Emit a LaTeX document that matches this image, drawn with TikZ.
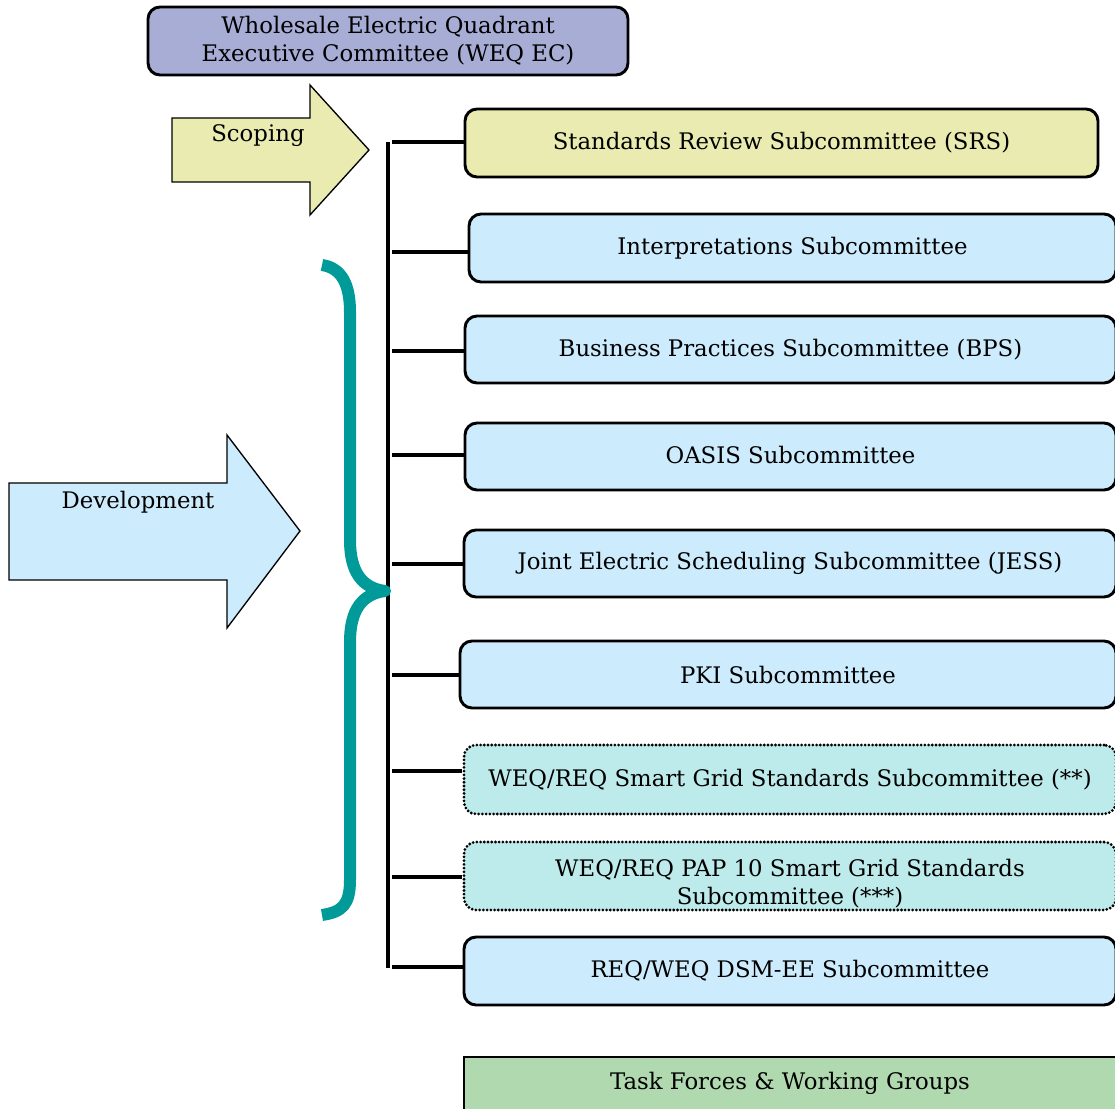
\documentclass[tikz,border=0pt]{standalone}
\usepackage{fontspec}
\setmainfont{DejaVu Serif}
\usetikzlibrary{calc}
\definecolor{lav}{HTML}{A7ADD4}
\definecolor{yel}{HTML}{E9EBB1}
\definecolor{lblue}{HTML}{CCEBFC}
\definecolor{teal2}{HTML}{009A99}
\definecolor{grn}{HTML}{B0D9B0}
\definecolor{cyanfill}{HTML}{BDEAEA}
\begin{document}
\begin{tikzpicture}[x=0.75pt,y=-0.75pt,
  every node/.style={font=\fontsize{17.1}{21}\selectfont},
  box/.style={draw, line width=2.2pt, rounded corners=9pt, inner sep=0pt, align=center},
  dotbox/.style={box, draw, line width=2.3pt, dash pattern=on 0pt off 2.8pt, line cap=round, fill=cyanfill},
  conn/.style={line width=2.4pt},
  arrowshape/.style={draw, line width=1pt, line join=miter},
  lbl/.style={inner sep=0pt}
]
\useasboundingbox (0,0) rectangle (1115,1109);

% top box
\node[box, fill=lav, minimum width=360pt, minimum height=51pt] (ec) at (388,41)
  {Wholesale Electric Quadrant\\Executive Committee (WEQ EC)};

% arrows
\draw[arrowshape, fill=yel] (172,118) -- (310,118) -- (310,85) -- (369,150) -- (310,215) -- (310,182) -- (172,182) -- cycle;
\node[lbl] (scop) at (258,136) {Scoping};
\draw[arrowshape, fill=lblue] (9,483) -- (227,483) -- (227,435) -- (300,531) -- (227,628) -- (227,580) -- (9,580) -- cycle;
\node[lbl] (dev) at (138,502) {Development};

% subcommittee boxes
\node[box, fill=yel, minimum width=474.75pt, minimum height=51pt] (srs) at (781.5,143) {Standards Review Subcommittee (SRS)};
\node[box, fill=lblue, minimum width=485.25pt, minimum height=51pt] (int) at (792.5,248) {Interpretations Subcommittee};
\node[box, fill=lblue, minimum width=488.25pt, minimum height=50.25pt] (bps) at (790.5,349.5) {Business Practices Subcommittee (BPS)};
\node[box, fill=lblue, minimum width=488.25pt, minimum height=50.25pt] (oasis) at (790.5,456.5) {\raisebox{3pt}{OASIS Subcommittee}};
\node[box, fill=lblue, minimum width=489pt, minimum height=50.25pt] (jess) at (790,563.5) {Joint Electric Scheduling Subcommittee (JESS)};
\node[box, fill=lblue, minimum width=492pt, minimum height=50.25pt] (pki) at (788,674.5) {PKI Subcommittee};
\node[dotbox, minimum width=489pt, minimum height=51.75pt] (sg) at (790,779.5) {WEQ/REQ Smart Grid Standards Subcommittee (**)};
\node[dotbox, minimum width=489pt, minimum height=51pt] (pap) at (790,876) {};
\node[lbl, align=center] (paptext) at (790,884) {WEQ/REQ PAP 10 Smart Grid Standards\\Subcommittee (***)};
\node[box, fill=lblue, minimum width=489pt, minimum height=51pt] (dsm) at (790,971) {REQ/WEQ DSM-EE Subcommittee};
\node[draw, line width=2.2pt, fill=grn, minimum width=492pt, minimum height=45pt, inner sep=0pt] (tf) at (792,1087) {};
\node[lbl] (tftext) at (790,1083) {Task Forces \& Working Groups};

% trunk and connectors
\coordinate (ttop) at (388,142);
\coordinate (tbot) at (388,968);
\draw[conn] (ttop) -- (tbot);
\foreach \yy/\nm in {142/srs, 252/int, 351/bps, 455/oasis, 564/jess, 675/pki, 771/sg, 877/pap, 967/dsm}{
  \coordinate (c\nm) at (392,\yy);
  \draw[conn] (c\nm) -- (c\nm -| \nm.west);
}

% brace
\draw[teal2, line width=9pt, line join=round]
  (322,265) .. controls (342,268) and (350,285) .. (350,312) -- (350,540)
  .. controls (350,572) and (362,588) .. (385,591)
  .. controls (362,594) and (350,610) .. (350,642) -- (350,880)
  .. controls (350,905) and (342,912) .. (322,915);
\end{tikzpicture}
\end{document}
